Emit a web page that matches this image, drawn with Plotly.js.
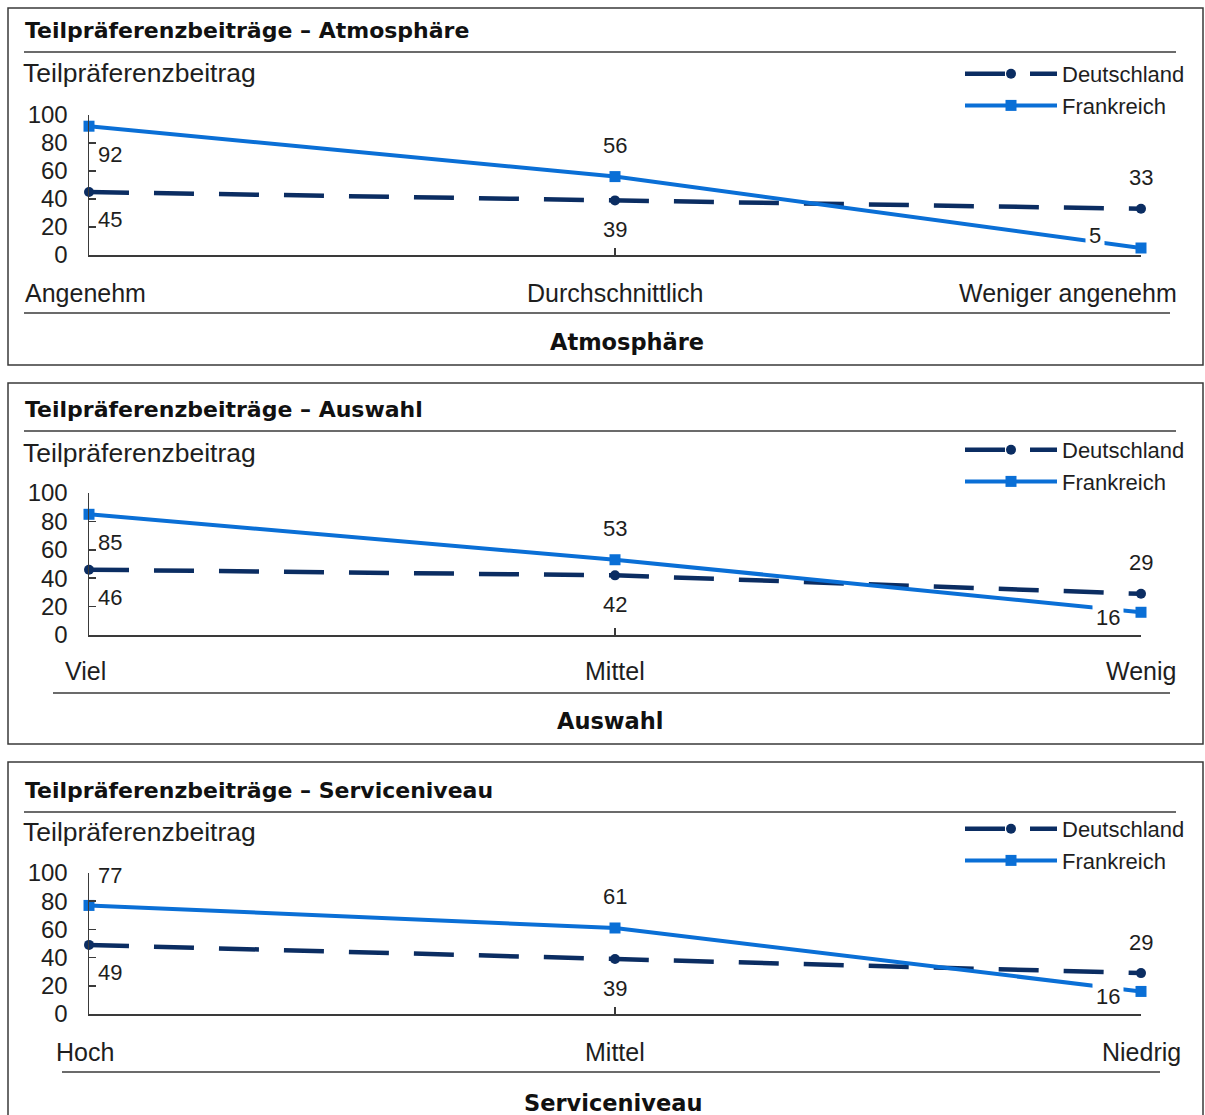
<!DOCTYPE html>
<html>
<head>
<meta charset="utf-8">
<script src="https://cdn.plot.ly/plotly-3.0.1.min.js"></script>
<style>
  html, body { margin: 0; padding: 0; background: #ffffff; }
  #chart { width: 1205px; height: 1115px; }
</style>
</head>
<body>
<div id="chart"></div>
<script>
// ---------------- data ----------------
const panelTitles = ['Teilpräferenzbeiträge – Atmosphäre', 'Teilpräferenzbeiträge – Auswahl', 'Teilpräferenzbeiträge – Serviceniveau'];
const axisTitles = ['Atmosphäre', 'Auswahl', 'Serviceniveau'];
const yAxisLabel = 'Teilpräferenzbeitrag';
const seriesNames = ['Deutschland', 'Frankreich'];
const yTickValues = [0, 20, 40, 60, 80, 100];

const catsAtmosphaere = ['Angenehm', 'Durchschnittlich', 'Weniger angenehm'];
const catsAuswahl = ['Viel', 'Mittel', 'Wenig'];
const catsService = ['Hoch', 'Mittel', 'Niedrig'];

const deAtmosphaere = [45, 39, 33];
const frAtmosphaere = [92, 56, 5];
const deAuswahl = [46, 42, 29];
const frAuswahl = [85, 53, 16];
const deService = [49, 39, 29];
const frService = [77, 61, 16];

// ---------------- styling / layout ----------------
const W = 1205, H = 1115;
const px = x => x / W;
const py = y => 1 - y / H;

const COL_DE = '#0B2D62';
const COL_FR = '#0A6FD6';
const COL_TXT = '#1e1e1e';
const COL_RULE = '#3a3a3a';
const FONT_REG = 'Liberation Sans, Arial, sans-serif';
const FONT_BOLD = 'DejaVu Sans, Verdana, sans-serif';

const panelData = [
  { cats: catsAtmosphaere, de: deAtmosphaere, fr: frAtmosphaere },
  { cats: catsAuswahl, de: deAuswahl, fr: frAuswahl },
  { cats: catsService, de: deService, fr: frService }
];
// label placement codes (style only)
const labelPosDE = [['br', 'bc', 'tc'], ['br', 'bc', 'tc'], ['br', 'bc', 'tc']];
const labelPosFR = [['br', 'tc', 'ul'], ['br', 'tc', 'ml'], ['tr', 'tc', 'ml']];

const geom = [
  { boxTop: 8, boxBot: 365, titleY: 31, ruleY: 52, yTitleY: 73, axTop: 115, axBot: 255, catY: 293, lowRuleY: 313, lowX0: 24, lowX1: 1170, xTitleY: 342, xTitleX: 627, legY: 53 },
  { boxTop: 383, boxBot: 744, titleY: 409, ruleY: 431, yTitleY: 453, axTop: 493, axBot: 635, catY: 671, lowRuleY: 693, lowX0: 53, lowX1: 1170, xTitleY: 721, xTitleX: 610, legY: 429 },
  { boxTop: 762, boxBot: 1135, titleY: 790, ruleY: 812, yTitleY: 832, axTop: 873, axBot: 1014, catY: 1052, lowRuleY: 1072, lowX0: 62, lowX1: 1160, xTitleY: 1103, xTitleX: 613, legY: 808 }
];
const AX_L = 89, AX_R = 1141;

const posStyle = {
  br: { xanchor: 'left', yanchor: 'middle', xshift: 5, yshift: -28, bg: false },
  tr: { xanchor: 'left', yanchor: 'middle', xshift: 5, yshift: 30, bg: false },
  tc: { xanchor: 'center', yanchor: 'middle', xshift: 0, yshift: 31, bg: false },
  bc: { xanchor: 'center', yanchor: 'middle', xshift: 0, yshift: -29, bg: false },
  ml: { xanchor: 'right', xshift: -17, yanchor: 'middle', yshift: -5, bg: true },
  ul: { xanchor: 'right', xshift: -36, yanchor: 'middle', yshift: 12, bg: true }
};

const traces = [];
const annotations = [];
const shapes = [];
const layout = {
  width: W, height: H,
  margin: { l: 0, r: 0, t: 0, b: 0 },
  paper_bgcolor: '#ffffff',
  plot_bgcolor: 'rgba(0,0,0,0)',
  font: { family: FONT_REG, color: COL_TXT },
  showlegend: true,
  annotations: annotations,
  shapes: shapes
};

panelData.forEach((p, i) => {
  const g = geom[i];
  const n = i === 0 ? '' : String(i + 1);
  const xa = 'x' + n, ya = 'y' + n;
  const legendId = 'legend' + n;

  layout['xaxis' + n] = {
    domain: [px(AX_L), px(AX_R)],
    anchor: ya,
    type: 'category',
    categoryorder: 'array', categoryarray: p.cats,
    range: [0, p.cats.length - 1],
    showline: true, linecolor: COL_RULE, linewidth: 1.5,
    ticks: 'inside', ticklen: 7, tickwidth: 1.5, tickcolor: COL_RULE,
    showticklabels: false, showgrid: false, zeroline: false, fixedrange: true
  };
  layout['yaxis' + n] = {
    domain: [py(g.axBot), py(g.axTop)],
    anchor: xa,
    range: [0, 100],
    tickvals: yTickValues,
    ticktext: yTickValues.map(String),
    showline: true, linecolor: COL_RULE, linewidth: 1.5,
    ticks: 'inside', ticklen: 7, tickwidth: 1.5, tickcolor: COL_RULE,
    ticklabelstandoff: 15,
    tickfont: { family: FONT_REG, size: 24, color: COL_TXT },
    showgrid: false, zeroline: false, fixedrange: true
  };
  layout[legendId] = {
    x: px(960), xanchor: 'left',
    y: py(g.legY), yanchor: 'top',
    bgcolor: 'rgba(0,0,0,0)',
    font: { family: FONT_REG, size: 22, color: COL_TXT },
    itemwidth: 92,
    tracegroupgap: 0,
    traceorder: 'normal'
  };

  traces.push({
    type: 'scatter', mode: 'lines+markers',
    x: p.cats, y: p.de, xaxis: xa, yaxis: ya,
    name: seriesNames[0], legend: legendId,
    line: { color: COL_DE, width: 4.5, dash: '40px,25px' },
    marker: { symbol: 'circle', size: 10, color: COL_DE },
    cliponaxis: false, hoverinfo: 'skip'
  });
  traces.push({
    type: 'scatter', mode: 'lines+markers',
    x: p.cats, y: p.fr, xaxis: xa, yaxis: ya,
    name: seriesNames[1], legend: legendId,
    line: { color: COL_FR, width: 4 },
    marker: { symbol: 'square', size: 11, color: COL_FR },
    cliponaxis: false, hoverinfo: 'skip'
  });

  // data labels
  [[p.de, labelPosDE[i]], [p.fr, labelPosFR[i]]].forEach(([vals, pos]) => {
    vals.forEach((v, k) => {
      const s = posStyle[pos[k]];
      annotations.push({
        xref: xa, yref: ya, x: p.cats[k], y: v,
        text: String(v), showarrow: false,
        xanchor: s.xanchor, yanchor: s.yanchor, xshift: s.xshift, yshift: s.yshift,
        font: { family: FONT_REG, size: 22, color: COL_TXT },
        bgcolor: s.bg ? '#ffffff' : 'rgba(0,0,0,0)', borderpad: 3
      });
    });
  });

  // category labels
  p.cats.forEach((c, k) => {
    const last = k === p.cats.length - 1;
    const long = c.length > 8;
    annotations.push({
      xref: xa, yref: 'paper', x: c, y: py(g.catY),
      text: c, showarrow: false,
      xanchor: last && long ? 'right' : 'center',
      xshift: last && long ? 38 : (k === 0 ? -4 : 0),
      yanchor: 'middle',
      font: { family: FONT_REG, size: 25, color: COL_TXT }
    });
  });

  // panel title
  annotations.push({
    xref: 'paper', yref: 'paper', x: px(23), y: py(g.titleY),
    xanchor: 'left', yanchor: 'middle', showarrow: false,
    text: '<b>' + panelTitles[i] + '</b>',
    font: { family: FONT_BOLD, size: 22, color: '#111111' }
  });
  // y axis label
  annotations.push({
    xref: 'paper', yref: 'paper', x: px(21), y: py(g.yTitleY),
    xanchor: 'left', yanchor: 'middle', showarrow: false,
    text: yAxisLabel,
    font: { family: FONT_REG, size: 26.5, color: COL_TXT }
  });
  // x axis title
  annotations.push({
    xref: 'paper', yref: 'paper', x: px(g.xTitleX), y: py(g.xTitleY),
    xanchor: 'center', yanchor: 'middle', showarrow: false,
    text: '<b>' + axisTitles[i] + '</b>',
    font: { family: FONT_BOLD, size: 22.5, color: '#111111' }
  });

  // frame and rules
  shapes.push({
    type: 'rect', xref: 'paper', yref: 'paper',
    x0: px(8), x1: px(1203), y0: py(g.boxBot), y1: py(g.boxTop),
    line: { color: COL_RULE, width: 1.5 }, fillcolor: 'rgba(0,0,0,0)'
  });
  shapes.push({
    type: 'line', xref: 'paper', yref: 'paper',
    x0: px(24), x1: px(1176), y0: py(g.ruleY), y1: py(g.ruleY),
    line: { color: COL_RULE, width: 1.5 }
  });
  shapes.push({
    type: 'line', xref: 'paper', yref: 'paper',
    x0: px(g.lowX0), x1: px(g.lowX1), y0: py(g.lowRuleY), y1: py(g.lowRuleY),
    line: { color: COL_RULE, width: 1.5 }
  });
});

Plotly.newPlot('chart', traces, layout, { staticPlot: true, displayModeBar: false });
</script>
</body>
</html>
